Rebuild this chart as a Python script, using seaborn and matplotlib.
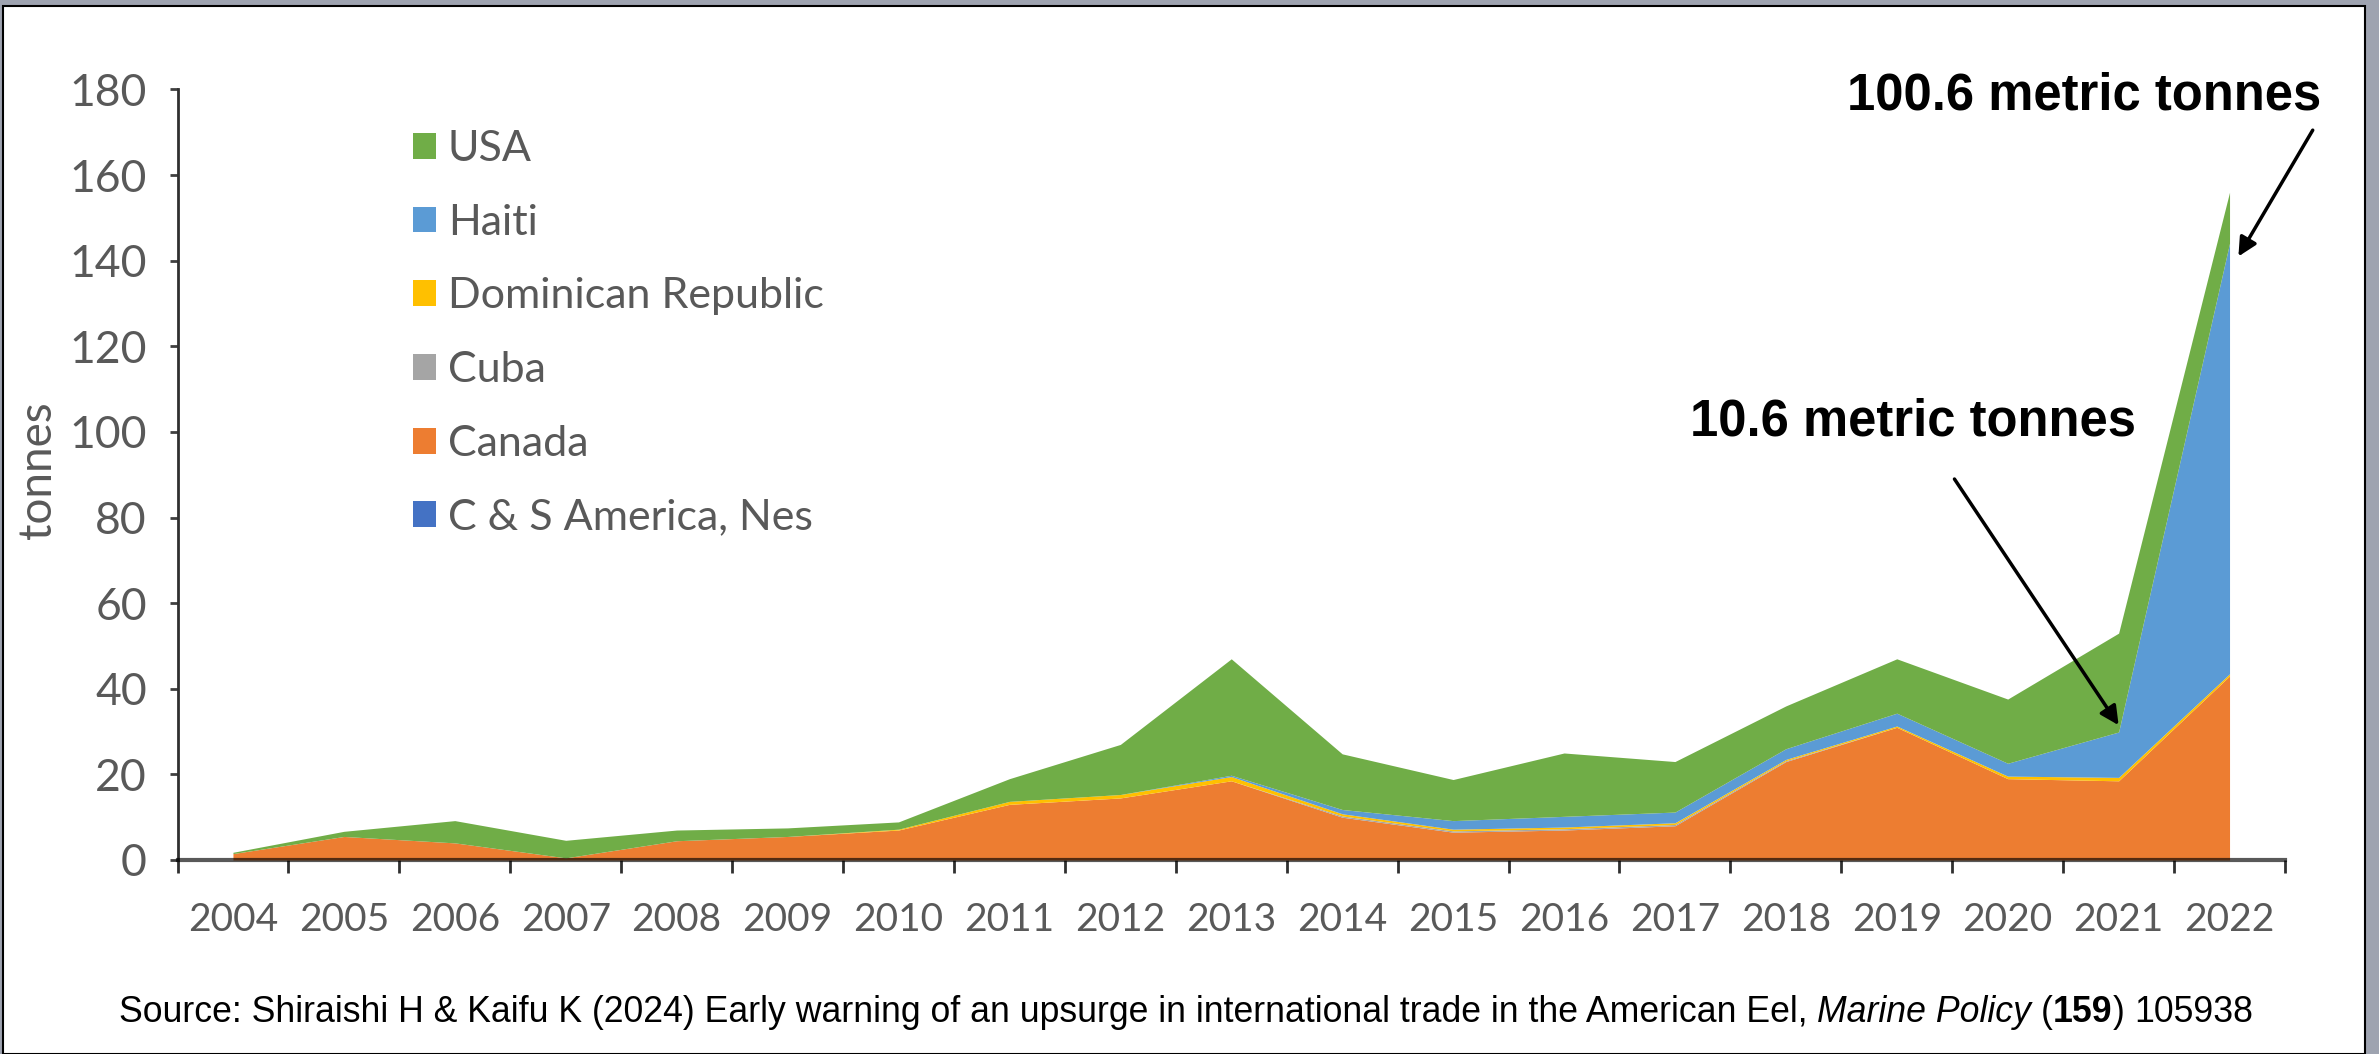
import numpy as np
import pandas as pd
import matplotlib
matplotlib.use("Agg")
import matplotlib.pyplot as plt
import seaborn as sns
from matplotlib.patches import Patch, Rectangle

# ---------------------------------------------------
# Data (tonnes)
# ---------------------------------------------------

years = [str(y) for y in range(2004, 2023)]

cs_america = [0.0] * 19
canada = [1.5, 5.5, 4.0, 0.5, 4.5, 5.5, 7.0, 13.0, 14.5, 18.5,
          10.0, 6.5, 7.0, 8.0, 23.0, 31.0, 19.0, 18.5, 43.0]
cuba = [0, 0, 0, 0, 0, 0, 0, 0, 0, 0,
        0.3, 0.3, 0.3, 0.3, 0.2, 0, 0, 0, 0]
dominican = [0, 0, 0, 0, 0, 0, 0.2, 0.7, 0.8, 1.0,
             0.5, 0.4, 0.4, 0.4, 0.3, 0.3, 0.6, 0.8, 0.5]
haiti = [0, 0, 0, 0, 0, 0, 0, 0, 0, 0.3,
         1.0, 2.0, 2.5, 2.5, 2.5, 3.0, 3.0, 10.6, 100.6]
usa = [0.3, 1.2, 5.2, 4.1, 2.5, 2.0, 1.7, 5.3, 11.7, 27.2,
       13.0, 9.6, 14.8, 11.8, 10.0, 12.7, 15.0, 23.1, 11.9]

series = ["C & S America, Nes", "Canada", "Cuba", "Dominican Republic", "Haiti", "USA"]
colors = ["#4472C4", "#ED7D31", "#A5A5A5", "#FFC000", "#5B9BD5", "#70AD47"]

df = pd.DataFrame({
    "C & S America, Nes": cs_america,
    "Canada": canada,
    "Cuba": cuba,
    "Dominican Republic": dominican,
    "Haiti": haiti,
    "USA": usa,
}, index=years)

# ---------------------------------------------------
# Figure
# ---------------------------------------------------

sns.set_theme(style="white")
plt.rcParams["font.family"] = ["Lato", "DejaVu Sans"]

W, H = 2379, 1054
fig = plt.figure(figsize=(W / 100, H / 100), dpi=100)
fig.patch.set_facecolor("#9ea3b0")
fig.patches.append(Rectangle((3 / W, 0), (2365 - 3) / W, (H - 6) / H,
                             transform=fig.transFigure, facecolor="white",
                             edgecolor="black", linewidth=1.5, zorder=-5))

ax = fig.add_axes([177.5 / W, 1 - 860 / H, (2285 - 177.5) / W, (860 - 89.5) / H])
ax.set_zorder(2)
ax.set_facecolor("none")

x = np.arange(len(years))
ax.stackplot(x, [df[s].values for s in series], colors=colors, linewidth=0)

ax.set_xlim(-0.5, 18.5)
ax.set_ylim(0, 180)
ax.set_yticks(range(0, 181, 20))

ax.set_xticks(np.arange(-0.5, 19, 1))
ax.set_xticklabels([])
ax.set_xticks(x, minor=True)
ax.set_xticklabels(years, minor=True)

grey = "#595959"
ax.tick_params(axis="y", which="major", left=True, length=6, width=2,
               color="#404040", labelsize=32, labelcolor=grey, pad=16)
ax.tick_params(axis="x", which="major", bottom=True, length=9, width=2, color="#303030")
ax.tick_params(axis="x", which="minor", bottom=True, length=0,
               labelsize=28, labelcolor=grey, pad=30)

sns.despine(ax=ax)
ax.spines["left"].set_color("#303030")
ax.spines["left"].set_linewidth(2)
ax.spines["bottom"].set_color("black")
ax.spines["bottom"].set_alpha(0.65)
ax.spines["bottom"].set_linewidth(3)

fig.text(38 / W, 1 - 470 / H, "tonnes", rotation=90, ha="center", va="center",
         fontsize=33, color=grey)

# legend (reverse stack order)
handles = [Patch(facecolor=c, edgecolor="none") for c in colors[::-1]]
leg = ax.legend(handles, series[::-1], loc="upper left",
                bbox_to_anchor=(413 / W, 1 - 130 / H), bbox_transform=fig.transFigure,
                frameon=False, fontsize=31, labelspacing=0.83, handlelength=0.53,
                handleheight=0.55, handletextpad=0.28, borderpad=0, borderaxespad=0)
for t in leg.get_texts():
    t.set_color(grey)

# annotations
bold = dict(family=["Liberation Sans", "DejaVu Sans"], fontsize=36.5, fontweight="bold", color="black")
ax.text(18.83, 178.5, "100.6 metric tonnes", ha="right", va="center", **bold)
ax.text(17.16, 102.4, "10.6 metric tonnes", ha="right", va="center", **bold)
arrow = dict(arrowstyle="-|>", color="black", lw=2.5, mutation_scale=28, shrinkA=0, shrinkB=0)
ax.annotate("", xy=(18.08, 141), xytext=(18.75, 170.5), arrowprops=arrow, annotation_clip=False)
ax.annotate("", xy=(17.0, 31.5), xytext=(15.52, 89), arrowprops=arrow, annotation_clip=False)

# source line with mixed styles
src_font = ["Liberation Sans", "DejaVu Sans"]
src_size = 25.7
parts = [
    ("Source: Shiraishi H & Kaifu K (2024) Early warning of an upsurge in international trade in the American Eel,", "normal", "normal", True),
    ("Marine Policy", "italic", "normal", True),
    ("(", "normal", "normal", False),
    ("159", "normal", "bold", False),
    (")", "normal", "normal", True),
    ("105938", "normal", "normal", False),
]
renderer = fig.canvas.get_renderer()


def text_width(s, style, weight):
    t = fig.text(0, 0, s, family=src_font, fontsize=src_size, style=style, fontweight=weight)
    w = t.get_window_extent(renderer).width
    t.remove()
    return w


space = text_width("a a", "normal", "normal") - text_width("aa", "normal", "normal")
widths = [text_width(s, st, wt) for s, st, wt, _ in parts]
total = sum(widths) + space * sum(1 for p in parts[:-1] if p[3])
cx, cy = 1186, H - 1012
px = cx - total / 2
for (s, st, wt, sp), w in zip(parts, widths):
    fig.text(px / W, cy / H, s, family=src_font, fontsize=src_size, style=st,
             fontweight=wt, ha="left", va="center", color="black")
    px += w + (space if sp else 0)

fig.savefig("out.png", dpi=100, facecolor=fig.get_facecolor())
plt.close(fig)
